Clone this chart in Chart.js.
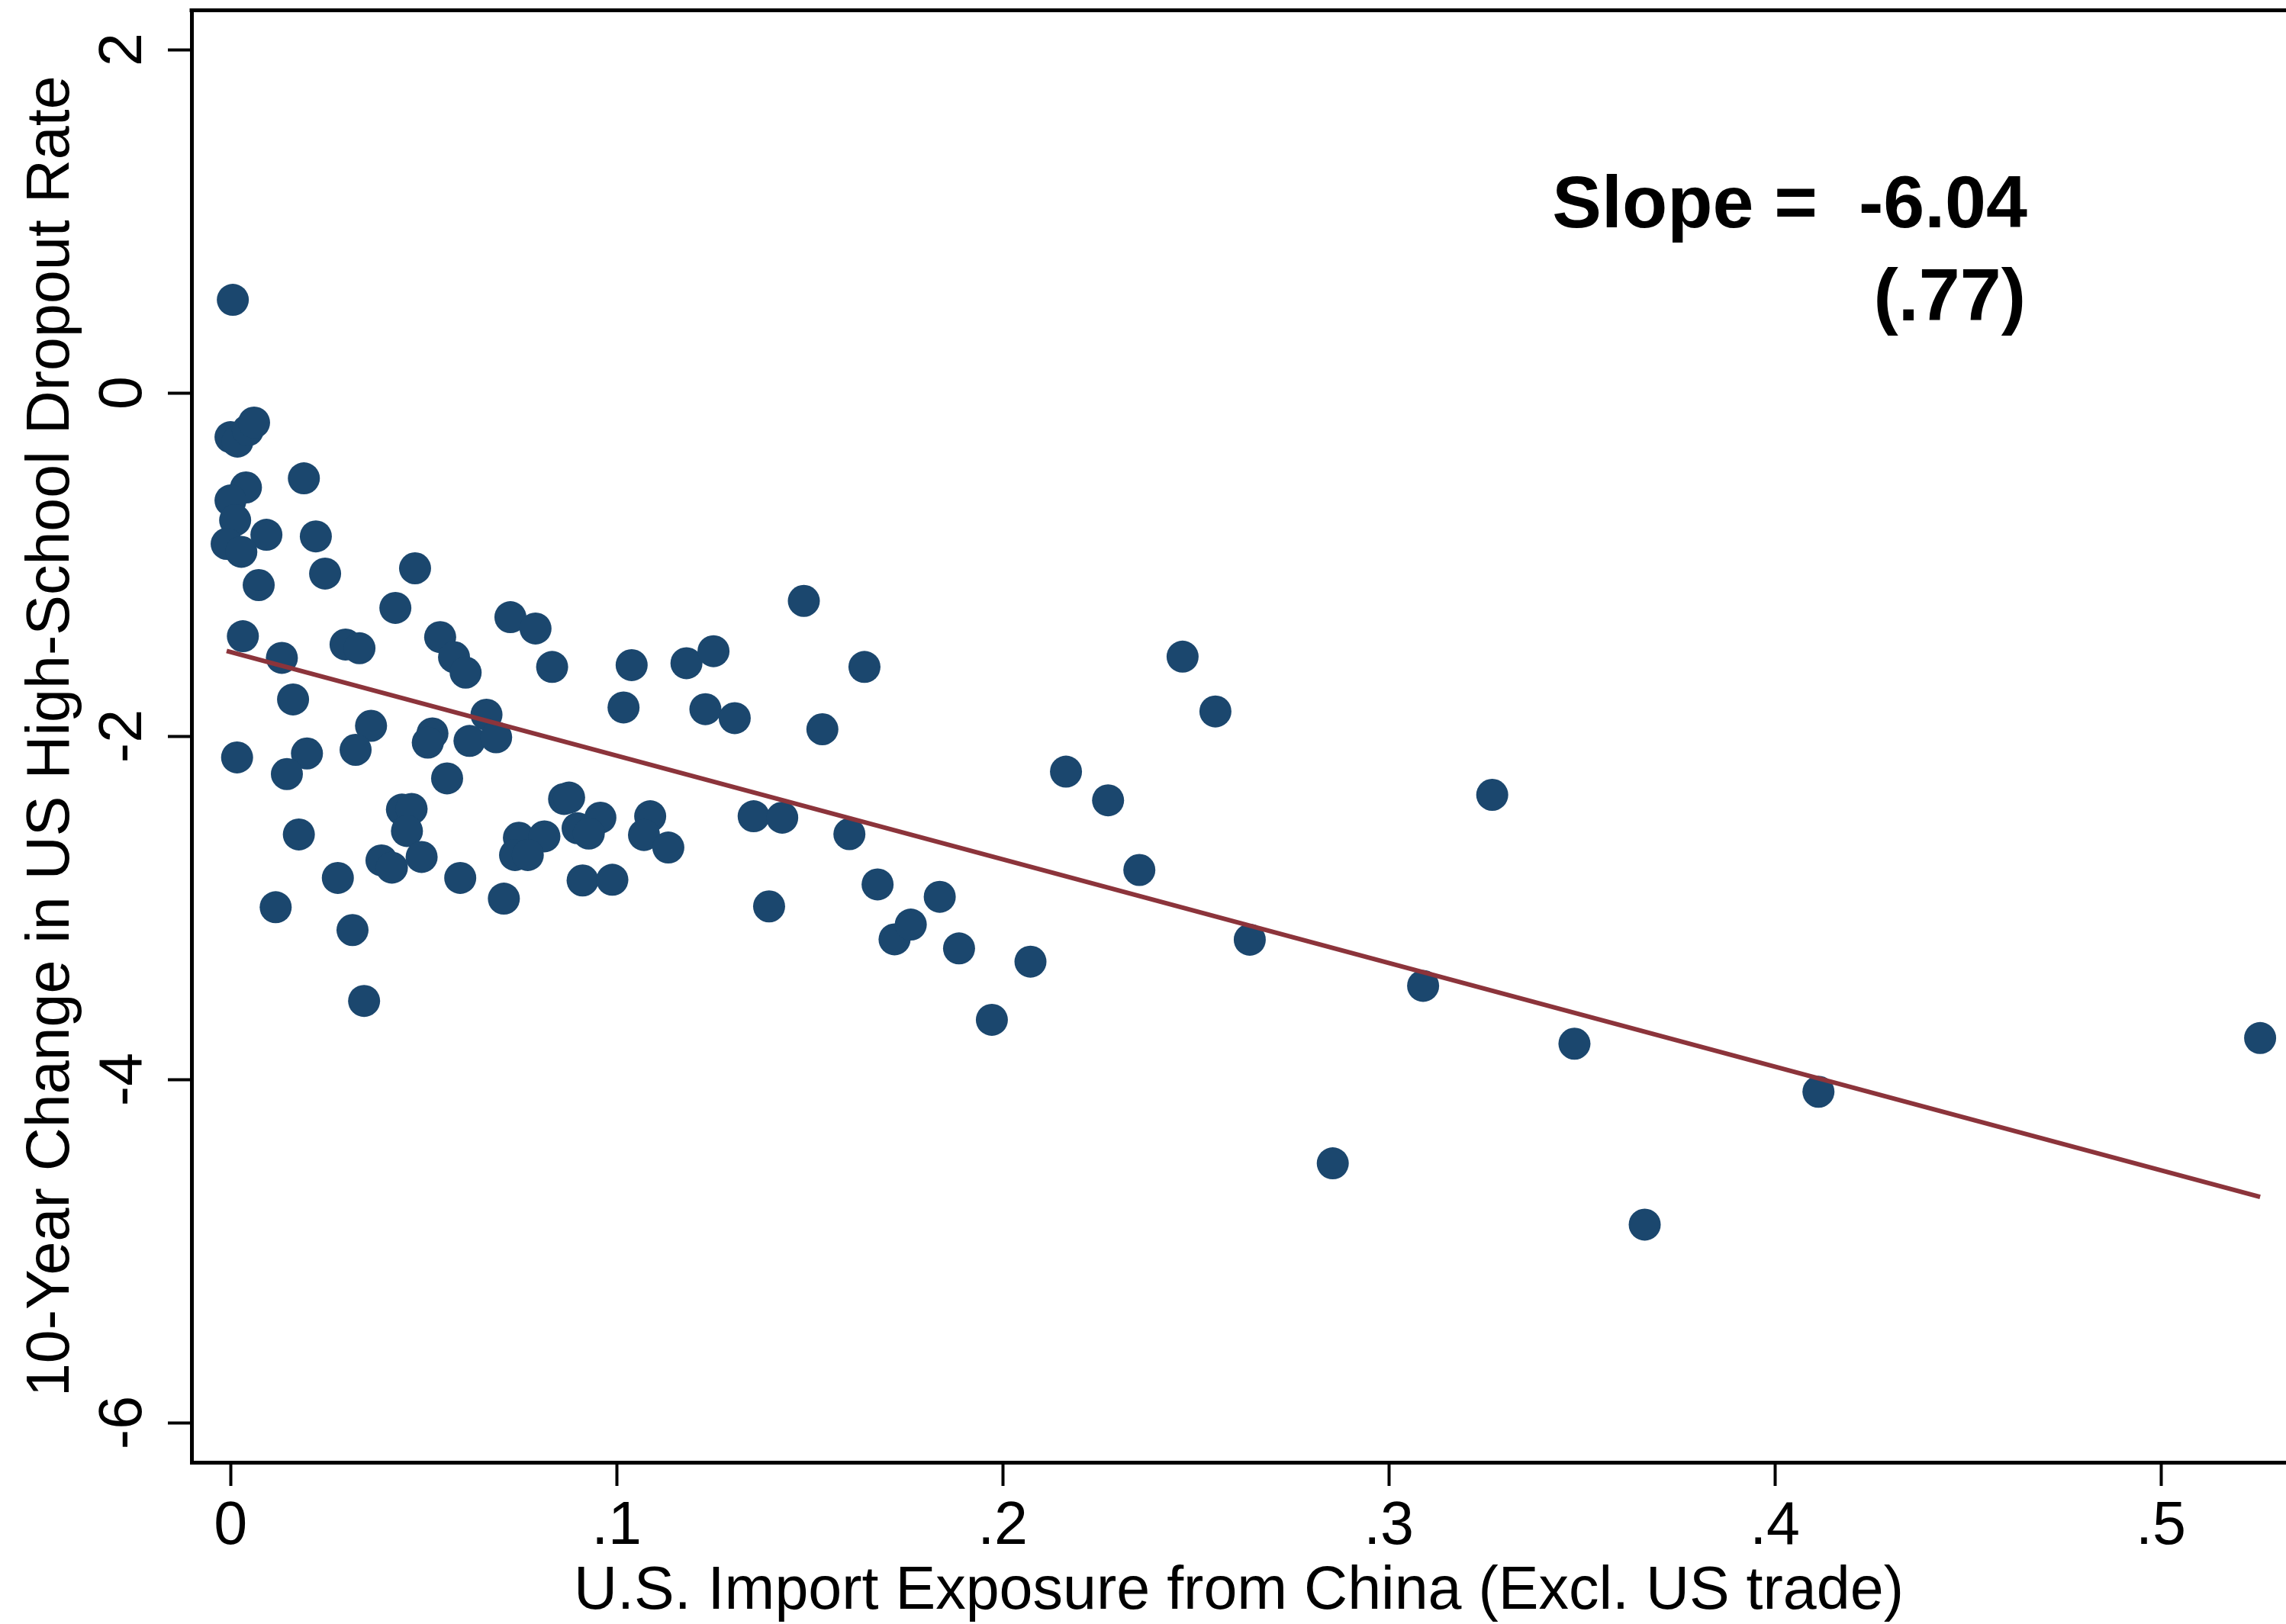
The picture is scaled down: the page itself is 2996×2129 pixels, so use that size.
<!DOCTYPE html>
<html>
<head>
<meta charset="utf-8">
<title>Import exposure and high-school dropout rates</title>
<script src="https://cdn.jsdelivr.net/npm/chart.js@4/dist/chart.umd.min.js"></script>
<style>
  html, body { margin: 0; padding: 0; background: #ffffff; }
  canvas { display: block; }
</style>
</head>
<body>
<canvas id="chart" width="2996" height="2129"></canvas>
<script>
// Commuting-zone observations: import exposure (x) and 10-year dropout-rate change (y)
const exposure = [
  0.0006, 0.0000, 0.0018, 0.0045, 0.0061, 0.0040, 0.0000, 0.0012, 0.0093, -0.0010,
  0.0028, 0.0190, 0.0221, 0.0245, 0.0073, 0.0478, 0.0427, 0.0725, 0.0790, 0.0032,
  0.0133, 0.0298, 0.0334, 0.0543, 0.0579, 0.0609, 0.0833, 0.0162, 0.0364, 0.0324,
  0.0017, 0.0198, 0.0146, 0.0523, 0.0511, 0.0663, 0.0619, 0.0688, 0.0561, 0.0177,
  0.0444, 0.0469, 0.0457, 0.0278, 0.0391, 0.0418, 0.0495, 0.0595, 0.0708, 0.0117,
  0.0316, 0.0346, 0.0747, 0.0813, 0.0737, 0.0770, 0.0864, 0.0877, 0.0899, 0.0912,
  0.0958, 0.0928, 0.1087, 0.1071, 0.1134, 0.1355, 0.1429, 0.1603, 0.0989, 0.1395,
  0.1676, 0.1720, 0.1762, 0.1039, 0.1181, 0.1251, 0.1485, 0.1642, 0.1018, 0.1230,
  0.1306, 0.1533, 0.1837, 0.1887, 0.1972, 0.2072, 0.2164, 0.2273, 0.2354, 0.2466,
  0.2551, 0.2640, 0.2855, 0.3089, 0.3268, 0.3481, 0.3663, 0.4113, 0.5257
];
const dropoutChange = [
  0.542, -0.258, -0.284, -0.218, -0.173, -0.551, -0.627, -0.742, -0.827, -0.880,
  -0.926, -0.498, -0.836, -1.053, -1.120, -1.022, -1.253, -1.307, -1.373, -1.418,
  -1.544, -1.466, -1.488, -1.423, -1.540, -1.630, -1.597, -1.786, -1.940, -2.080,
  -2.124, -2.101, -2.221, -1.984, -2.038, -1.875, -2.028, -2.007, -2.246, -2.573,
  -2.428, -2.424, -2.553, -2.826, -2.724, -2.766, -2.704, -2.826, -2.947, -2.997,
  -3.130, -3.543, -2.592, -2.584, -2.693, -2.693, -2.366, -2.358, -2.537, -2.841,
  -2.475, -2.568, -2.467, -2.576, -2.649, -2.467, -2.475, -2.571, -2.837, -2.992,
  -2.864, -3.184, -3.098, -1.586, -1.575, -1.505, -1.212, -1.597, -1.833, -1.843,
  -1.895, -1.960, -2.936, -3.237, -3.653, -3.314, -2.207, -2.374, -2.780, -1.537,
  -1.856, -3.186, -4.489, -3.455, -2.342, -3.792, -4.846, -4.072, -3.759
];

// Axis ticks
const xTickValues = [0, 0.1, 0.2, 0.3, 0.4, 0.5];
const xTickLabels = ['0', '.1', '.2', '.3', '.4', '.5'];
const yTickValues = [-6, -4, -2, 0, 2];
const yTickLabels = ['-6', '-4', '-2', '0', '2'];

// Linear fit and its reported slope / standard error
const fitIntercept = -1.51;
const fitSlope = -6.04;
const slopeLabel = '-6.04';
const seLabel = '.77';

const xTitle = 'U.S. Import Exposure from China (Excl. US trade)';
const yTitle = '10-Year Change in US High-School Dropout Rate';

const FONT = "'Liberation Sans', Arial, Helvetica, sans-serif";
const INK = '#000000';
const NAVY = '#1b476e';
const FIT_RED = '#8c343b';

const points = exposure.map((x, i) => ({ x: x, y: dropoutChange[i] }));
const xLo = Math.min(...exposure);
const xHi = Math.max(...exposure);
const fitLine = [
  { x: xLo, y: fitIntercept + fitSlope * xLo },
  { x: xHi, y: fitIntercept + fitSlope * xHi }
];

// Rotated y tick labels, the top frame line and the slope note
const decorations = {
  id: 'decorations',
  afterDraw(chart) {
    const { ctx, chartArea, scales } = chart;
    ctx.save();

    // top frame line
    ctx.strokeStyle = INK;
    ctx.lineWidth = 5;
    ctx.beginPath();
    ctx.moveTo(chartArea.left - 2.5, chartArea.top);
    ctx.lineTo(chartArea.right, chartArea.top);
    ctx.stroke();

    // y tick labels, reading upward
    ctx.fillStyle = INK;
    ctx.font = '79px ' + FONT;
    ctx.textAlign = 'center';
    ctx.textBaseline = 'alphabetic';
    yTickValues.forEach((v, i) => {
      const py = scales.y.getPixelForValue(v);
      ctx.save();
      ctx.translate(chartArea.left - 66, py);
      ctx.rotate(-Math.PI / 2);
      ctx.fillText(yTickLabels[i], 0, 0);
      ctx.restore();
    });

    // slope note
    ctx.font = 'bold 97px ' + FONT;
    ctx.textAlign = 'right';
    ctx.fillText('Slope =  ' + slopeLabel, chartArea.right - 339, chartArea.top + 284);
    ctx.fillText('(' + seLabel + ')', chartArea.right - 341, chartArea.top + 406);

    ctx.restore();
  }
};

new Chart(document.getElementById('chart'), {
  type: 'scatter',
  data: {
    datasets: [
      {
        type: 'line',
        data: fitLine,
        borderColor: FIT_RED,
        borderWidth: 6,
        pointRadius: 0,
        fill: false,
        tension: 0,
        order: 0
      },
      {
        data: points,
        backgroundColor: NAVY,
        borderColor: NAVY,
        borderWidth: 0,
        pointRadius: 21,
        pointHoverRadius: 21,
        order: 1
      }
    ]
  },
  options: {
    responsive: false,
    animation: false,
    devicePixelRatio: 1,
    layout: { autoPadding: false, padding: { top: 13.5, left: 0, right: 0, bottom: 0 } },
    plugins: {
      legend: { display: false },
      tooltip: { enabled: false }
    },
    scales: {
      x: {
        type: 'linear',
        min: -0.0101,
        max: 0.5324,
        afterFit(scale) { scale.height = 212; },
        afterBuildTicks(scale) { scale.ticks = xTickValues.map(v => ({ value: v })); },
        ticks: {
          callback: (value, index) => xTickLabels[index],
          font: { family: FONT, size: 79 },
          color: INK,
          padding: 7,
          maxRotation: 0,
          minRotation: 0,
          autoSkip: false
        },
        grid: {
          drawOnChartArea: false,
          drawTicks: true,
          tickLength: 31,
          tickWidth: 4,
          tickColor: INK
        },
        border: { display: true, color: INK, width: 5 },
        title: {
          display: true,
          text: xTitle,
          color: INK,
          font: { family: FONT, size: 79, lineHeight: 1 },
          padding: { top: 0, bottom: 2 }
        }
      },
      y: {
        type: 'linear',
        min: -6.231,
        max: 2.229,
        afterFit(scale) { scale.width = 251; },
        afterBuildTicks(scale) { scale.ticks = yTickValues.map(v => ({ value: v })); },
        ticks: { display: false },
        grid: {
          drawOnChartArea: false,
          drawTicks: true,
          tickLength: 31,
          tickWidth: 4,
          tickColor: INK
        },
        border: { display: true, color: INK, width: 5 },
        title: {
          display: true,
          text: yTitle,
          color: INK,
          font: { family: FONT, size: 79, lineHeight: 1 },
          padding: { top: 29, bottom: 0 }
        }
      }
    }
  },
  plugins: [decorations]
});
</script>
</body>
</html>
